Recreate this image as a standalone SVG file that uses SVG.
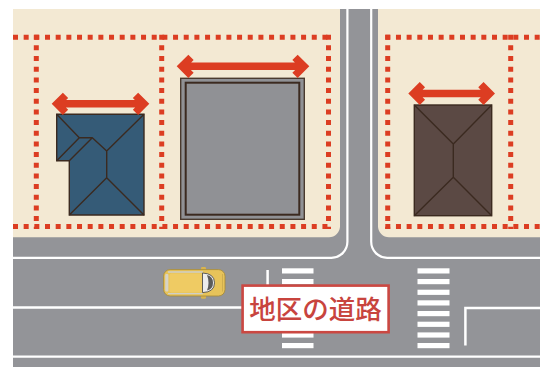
<svg xmlns="http://www.w3.org/2000/svg" width="547" height="367" viewBox="0 0 547 367">
  <style>
    .lot { fill: none; stroke: #dc3d22; stroke-width: 5; stroke-dasharray: 5 5.67; }
    .curb { fill: none; stroke: #ffffff; stroke-width: 2.2; }
    .paint { fill: none; stroke: #ffffff; stroke-width: 2.5; }
    .stripe { fill: #ffffff; }
    .roofline { fill: none; stroke: #3b2a20; stroke-width: 1.4; stroke-linejoin: round; }
    .arrow { fill: none; stroke: #dc3d22; stroke-width: 7.5; stroke-linejoin: miter; stroke-miterlimit: 4; }
  </style>

  <!-- page -->
  <rect width="547" height="367" fill="#ffffff"/>

  <!-- asphalt -->
  <rect x="13" y="9" width="527" height="358" fill="#939498"/>

  <!-- building blocks -->
  <g id="block-left">
    <path d="M13 9 H340 V226.3 A11 11 0 0 1 329 237.3 H13 Z" fill="#f3e9d3"/>
  </g>
  <g id="block-right">
    <path d="M378 9 H540 V237.3 H389 A11 11 0 0 1 378 226.3 Z" fill="#f3e9d3"/>
  </g>

  <!-- road markings -->
  <g id="road-markings">
    <path class="curb" d="M347.4 9 V241.8 A16 16 0 0 1 331.4 257.8 H13"/>
    <path class="curb" d="M371.2 9 V241.8 A16 16 0 0 0 387.2 257.8 H540"/>
    <path class="paint" d="M13 307.4 H267.6 V270"/>
    <path class="paint" d="M540 308 H465.4 V345.5"/>
    <line class="curb" x1="13" y1="356.7" x2="540" y2="356.7"/>

    <g id="crosswalk-left">
      <rect class="stripe" x="282" y="268.3" width="31.5" height="5.2"/>
      <rect class="stripe" x="282" y="279" width="31.5" height="5.2"/>
      <rect class="stripe" x="282" y="289.7" width="31.5" height="5.2"/>
      <rect class="stripe" x="282" y="300.3" width="31.5" height="5.2"/>
      <rect class="stripe" x="282" y="311" width="31.5" height="5.2"/>
      <rect class="stripe" x="282" y="321.7" width="31.5" height="5.2"/>
      <rect class="stripe" x="282" y="332.4" width="31.5" height="5.2"/>
      <rect class="stripe" x="282" y="343" width="31.5" height="5.2"/>
    </g>
    <g id="crosswalk-right">
      <rect class="stripe" x="417.5" y="268.3" width="32" height="5.2"/>
      <rect class="stripe" x="417.5" y="279" width="32" height="5.2"/>
      <rect class="stripe" x="417.5" y="289.7" width="32" height="5.2"/>
      <rect class="stripe" x="417.5" y="300.3" width="32" height="5.2"/>
      <rect class="stripe" x="417.5" y="311" width="32" height="5.2"/>
      <rect class="stripe" x="417.5" y="321.7" width="32" height="5.2"/>
      <rect class="stripe" x="417.5" y="332.4" width="32" height="5.2"/>
      <rect class="stripe" x="417.5" y="343" width="32" height="5.2"/>
    </g>
  </g>

  <!-- lot boundaries -->
  <g id="lot-lines">
    <line class="lot" x1="13" y1="37.2" x2="331" y2="37.2"/>
    <line class="lot" x1="13" y1="226.6" x2="331" y2="226.6"/>
    <line class="lot" x1="36.3" y1="34.7" x2="36.3" y2="229"/>
    <line class="lot" x1="161.7" y1="34.7" x2="161.7" y2="229"/>
    <line class="lot" x1="328.5" y1="34.7" x2="328.5" y2="229"/>
    <line class="lot" x1="385.3" y1="37.2" x2="540" y2="37.2"/>
    <line class="lot" x1="385.3" y1="226.6" x2="540" y2="226.6"/>
    <line class="lot" x1="387.7" y1="34.7" x2="387.7" y2="229"/>
    <line class="lot" x1="510.7" y1="34.7" x2="510.7" y2="229"/>
  </g>

  <!-- houses -->
  <g id="house-blue">
    <path d="M56.7 114.3 H144 V215 H69.3 V160.7 H56.7 Z" fill="#355b77" stroke="#3b2a20" stroke-width="1.4"/>
    <path class="roofline" d="M56.7 114.3 L79.3 137.7 H92.3 L106.7 151 L144 114.3 M106.7 151 V177.7 L69.3 215 M106.7 177.7 L144 215 M79.3 137.7 L56.7 160.7 M92.3 137.7 L69.3 160.7"/>
  </g>
  <g id="house-gray">
    <rect x="180.7" y="78.3" width="123.6" height="141" fill="#909195" stroke="#4a3a2e" stroke-width="1.4"/>
    <rect x="185.7" y="82.7" width="113.6" height="132" fill="none" stroke="#3b2a20" stroke-width="2"/>
  </g>
  <g id="house-brown">
    <rect x="414.3" y="105" width="77.4" height="110.7" fill="#5b4944" stroke="#3b2a20" stroke-width="1.4"/>
    <path class="roofline" d="M414.3 105 L453.3 144 L491.7 105 M453.3 144 V177.3 L414.3 215.7 M453.3 177.3 L491.7 215.7"/>
  </g>

  <!-- frontage width arrows -->
  <g id="arrows">
    <path class="arrow" d="M57 103.8 H144 M65.5 95.3 L57 103.8 L65.5 112.3 M135.5 95.3 L144 103.8 L135.5 112.3"/>
    <path class="arrow" d="M182 66.3 H304 M191 57.3 L182 66.3 L191 75.3 M295 57.3 L304 66.3 L295 75.3"/>
    <path class="arrow" d="M413.6 93.5 H489.7 M422.4 84.7 L413.6 93.5 L422.4 102.3 M480.9 84.7 L489.7 93.5 L480.9 102.3"/>
  </g>

  <!-- car, seen from above, heading right -->
  <g id="car">
    <rect x="201" y="267" width="5" height="3.5" rx="1.2" fill="#d9b44e"/>
    <rect x="201" y="295.3" width="5" height="3.5" rx="1.2" fill="#d9b44e"/>
    <rect x="163.6" y="269.6" width="61.4" height="26.4" rx="6.5" fill="#e7c35a" stroke="#a98d3c" stroke-width="0.9"/>
    <rect x="169.5" y="273.5" width="34" height="19" rx="2" fill="#efcb63"/>
    <line x1="168" y1="272" x2="203" y2="272" stroke="#cfcfc8" stroke-width="1.4"/>
    <line x1="168" y1="293.6" x2="203" y2="293.6" stroke="#cfcfc8" stroke-width="1.4"/>
    <rect x="165.2" y="274" width="3.2" height="17.6" rx="1" fill="#d6d3c6"/>
    <path d="M202.5 273 Q214.5 273.5 214.5 282.8 Q214.5 292.2 202.5 292.6 Z" fill="#ececec" stroke="#4d4d4d" stroke-width="0.9"/>
    <path d="M207 275 Q213 276.5 213 282.8 Q213 289.2 207 290.6 Q210 282.8 207 275 Z" fill="#5a5a5a"/>
    <line x1="222.5" y1="274" x2="222.5" y2="291.6" stroke="#c9a84c" stroke-width="0.8"/>
  </g>

  <!-- road name label -->
  <g id="label-road">
    <rect x="242.6" y="285.6" width="146" height="46.6" fill="#ffffff" stroke="#cb4842" stroke-width="2.6"/>
    <text x="315.6" y="319.4" text-anchor="middle" font-family="'Noto Sans CJK JP', 'Noto Sans', sans-serif" font-size="26.5" font-weight="500" fill="#c8443e">地区の道路</text>
  </g>
</svg>
